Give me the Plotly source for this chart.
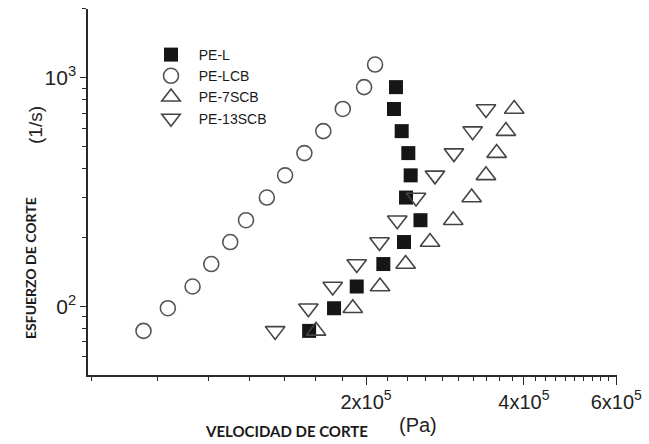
import plotly.graph_objects as go

# ---- data ----
series_names = ["PE-L", "PE-LCB", "PE-7SCB", "PE-13SCB"]

rows = [78, 98, 122, 153, 191, 238, 299, 374, 468, 584, 730, 910, 1143]

pe_l_x = [155800, 173800, 192000, 215800, 236300, 254000, 238400, 243300, 240800, 233900, 226100, 228100]
pe_l_y = rows[:12]

pe_lcb_x = [75300, 83800, 93400, 101400, 110200, 118100, 129400, 140200, 152600, 165800, 180600, 198300, 208100]
pe_lcb_y = rows[:13]

pe_7scb_x = [160600, 188700, 212700, 238000, 264900, 293300, 318000, 338600, 354900, 369600, 383300]
pe_7scb_y = rows[:11]

pe_13scb_x = [134200, 155300, 172800, 192000, 212200, 229400, 249100, 270700, 294200, 319400, 338600]
pe_13scb_y = rows[:11]

x_tick_vals = [2e5, 4e5, 6e5]
x_tick_text = ["2x10<sup>5</sup>", "4x10<sup>5</sup>", "6x10<sup>5</sup>"]
y_tick_vals = [100, 1000]
y_tick_text = ["0<sup>2</sup>", "10<sup>3</sup>"]

x_minor = [v * 1e4 for v in range(6, 60, 2)]
y_minor = [60, 70, 80, 90, 200, 300, 400, 500, 600, 700, 800, 900, 2000]

# ---- layout geometry (pixels) ----
W, H = 649, 444
L, R, T, B = 88, 32, 9, 69
pw, ph = W - L - R, H - T - B


def px(x):
    return (x - L) / pw


def py(y):
    return (H - B - y) / ph


fig = go.Figure()

LEG = "\u00a0\u00a0"
fig.add_trace(go.Scatter(
    x=pe_l_x, y=pe_l_y, mode="markers", name=LEG + series_names[0],
    marker=dict(symbol="square", size=14, color="#161616",
                line=dict(width=0))))
fig.add_trace(go.Scatter(
    x=pe_lcb_x, y=pe_lcb_y, mode="markers", name=LEG + series_names[1],
    marker=dict(symbol="circle-open", size=15, color="#555555",
                line=dict(width=1.6, color="#555555"))))
fig.add_trace(go.Scatter(
    x=pe_7scb_x, y=pe_7scb_y, mode="markers", name=LEG + series_names[2],
    marker=dict(symbol="triangle-up-open", size=17, color="#444444",
                line=dict(width=1.6, color="#444444"))))
fig.add_trace(go.Scatter(
    x=pe_13scb_x, y=pe_13scb_y, mode="markers", name=LEG + series_names[3],
    marker=dict(symbol="triangle-down-open", size=17, color="#444444",
                line=dict(width=1.6, color="#444444"))))

axis_common = dict(
    type="log", showgrid=False, zeroline=False, showline=True,
    linecolor="#2a2a2a", linewidth=1.5, ticks="outside",
    tickcolor="#2a2a2a", tickwidth=1.3, mirror=False,
    tickmode="array",
)

fig.update_xaxes(
    **axis_common,
    range=[4.771, 5.7795],
    tickvals=x_tick_vals, ticktext=x_tick_text, ticklen=8,
    tickfont=dict(family="Liberation Sans, Arial, sans-serif", size=20, color="#222222"),
    minor=dict(tickmode="array", tickvals=x_minor, ticks="outside",
               ticklen=4, tickcolor="#2a2a2a", tickwidth=1.2, showgrid=False),
)
fig.update_yaxes(
    **axis_common,
    range=[1.699, 3.301],
    tickvals=y_tick_vals, ticktext=y_tick_text, ticklen=6,
    tickfont=dict(family="Liberation Sans, Arial, sans-serif", size=21, color="#222222"),
    minor=dict(tickmode="array", tickvals=y_minor, ticks="outside",
               ticklen=4, tickcolor="#2a2a2a", tickwidth=1.2, showgrid=False),
)

annots = [
    dict(text="<b>ESFUERZO DE CORTE</b>", x=px(30), y=py(268), textangle=-90,
         font=dict(family="Lato, sans-serif", size=14, color="#1a1a1a")),
    dict(text="(1/s)", x=px(35), y=py(125), textangle=-90,
         font=dict(family="Liberation Sans, Arial, sans-serif", size=19, color="#222222")),
    dict(text="<b>VELOCIDAD DE CORTE</b>", x=px(286), y=py(431),
         font=dict(family="Lato, sans-serif", size=15, color="#1a1a1a")),
    dict(text="(Pa)", x=px(418), y=py(425),
         font=dict(family="Liberation Sans, Arial, sans-serif", size=20, color="#222222")),
]
for a in annots:
    fig.add_annotation(xref="paper", yref="paper", showarrow=False,
                       xanchor="center", yanchor="middle", **a)

fig.update_layout(
    width=W, height=H,
    margin=dict(l=L, r=R, t=T, b=B, autoexpand=False),
    paper_bgcolor="white", plot_bgcolor="white",
    showlegend=True,
    legend=dict(x=px(151), y=py(39), xanchor="left", yanchor="top",
                bgcolor="rgba(0,0,0,0)", borderwidth=0,
                font=dict(family="Liberation Sans, Arial, sans-serif", size=14, color="#1a1a1a"),
                tracegroupgap=0, itemsizing="trace"),
)

fig.write_html("out.html")
